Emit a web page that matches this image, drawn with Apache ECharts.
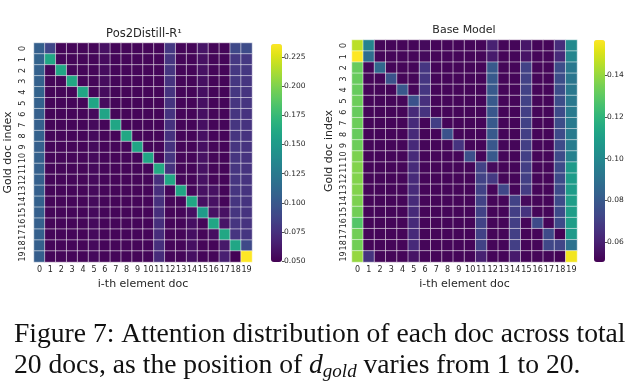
<!DOCTYPE html>
<html><head><meta charset="utf-8">
<script src="https://cdn.jsdelivr.net/npm/echarts@6/dist/echarts.min.js"></script>
<style>html,body{margin:0;padding:0;background:#fff}#c{width:640px;height:387px}</style>
</head><body><div id="c"></div>
<script>
// ---- data ----
const docLabels = ['0','1','2','3','4','5','6','7','8','9','10','11','12','13','14','15','16','17','18','19'];
const goldLabels = ['0','1','2','3','4','5','6','7','8','9','10','11','12','13','14','15','16','17','18','19'];

// Pos2Distill-R1: rows = gold doc index, cols = i-th element doc
const pos2distill = [
 [0.106,0.088,0.052,0.052,0.052,0.052,0.058,0.052,0.052,0.052,0.052,0.052,0.080,0.052,0.052,0.060,0.052,0.052,0.090,0.092],
 [0.108,0.160,0.052,0.052,0.052,0.052,0.055,0.052,0.052,0.052,0.052,0.052,0.078,0.052,0.052,0.058,0.052,0.052,0.080,0.080],
 [0.107,0.052,0.160,0.052,0.052,0.052,0.055,0.052,0.052,0.052,0.052,0.052,0.078,0.052,0.052,0.058,0.052,0.052,0.079,0.079],
 [0.107,0.052,0.052,0.161,0.052,0.052,0.055,0.052,0.052,0.052,0.052,0.052,0.077,0.052,0.052,0.057,0.052,0.052,0.079,0.078],
 [0.108,0.052,0.052,0.052,0.160,0.052,0.055,0.052,0.052,0.052,0.052,0.052,0.077,0.052,0.052,0.057,0.052,0.052,0.079,0.078],
 [0.107,0.052,0.052,0.052,0.052,0.159,0.055,0.052,0.052,0.052,0.052,0.052,0.077,0.052,0.052,0.057,0.052,0.052,0.078,0.078],
 [0.106,0.052,0.052,0.052,0.052,0.054,0.158,0.052,0.052,0.052,0.052,0.052,0.077,0.052,0.052,0.057,0.052,0.052,0.078,0.077],
 [0.106,0.052,0.052,0.052,0.052,0.054,0.052,0.160,0.052,0.052,0.052,0.052,0.076,0.052,0.052,0.057,0.052,0.052,0.078,0.077],
 [0.107,0.052,0.052,0.052,0.052,0.054,0.052,0.052,0.161,0.052,0.052,0.052,0.076,0.052,0.052,0.057,0.052,0.052,0.078,0.077],
 [0.106,0.052,0.052,0.052,0.052,0.054,0.052,0.052,0.052,0.159,0.052,0.052,0.076,0.052,0.052,0.057,0.052,0.052,0.078,0.077],
 [0.107,0.052,0.052,0.052,0.052,0.054,0.052,0.052,0.052,0.052,0.160,0.052,0.078,0.052,0.052,0.058,0.052,0.052,0.078,0.077],
 [0.106,0.052,0.052,0.052,0.052,0.054,0.052,0.052,0.052,0.052,0.052,0.162,0.076,0.052,0.052,0.058,0.052,0.052,0.078,0.077],
 [0.106,0.052,0.052,0.052,0.052,0.054,0.052,0.052,0.052,0.052,0.052,0.074,0.160,0.052,0.052,0.058,0.052,0.052,0.078,0.077],
 [0.106,0.052,0.052,0.052,0.052,0.054,0.052,0.052,0.052,0.052,0.052,0.074,0.052,0.159,0.052,0.058,0.058,0.052,0.078,0.077],
 [0.107,0.052,0.052,0.052,0.052,0.054,0.052,0.052,0.052,0.052,0.052,0.075,0.052,0.052,0.160,0.057,0.058,0.052,0.078,0.077],
 [0.106,0.052,0.052,0.052,0.052,0.054,0.052,0.052,0.052,0.052,0.052,0.074,0.052,0.052,0.057,0.150,0.058,0.058,0.078,0.077],
 [0.106,0.052,0.052,0.052,0.052,0.054,0.052,0.052,0.052,0.052,0.052,0.074,0.052,0.052,0.057,0.052,0.160,0.060,0.078,0.077],
 [0.106,0.052,0.052,0.052,0.052,0.054,0.052,0.052,0.052,0.052,0.052,0.073,0.052,0.052,0.057,0.052,0.056,0.161,0.078,0.078],
 [0.106,0.052,0.052,0.052,0.052,0.054,0.052,0.052,0.052,0.052,0.052,0.074,0.052,0.052,0.057,0.052,0.052,0.062,0.160,0.090],
 [0.105,0.052,0.052,0.052,0.052,0.054,0.052,0.052,0.052,0.052,0.052,0.072,0.052,0.052,0.057,0.052,0.052,0.066,0.050,0.236]
];

// Base Model
const baseModel = [
 [0.146,0.098,0.052,0.052,0.052,0.052,0.053,0.052,0.052,0.052,0.052,0.052,0.060,0.052,0.052,0.057,0.052,0.052,0.064,0.101],
 [0.157,0.088,0.052,0.052,0.052,0.052,0.053,0.052,0.052,0.052,0.052,0.052,0.058,0.052,0.052,0.056,0.052,0.052,0.063,0.099],
 [0.132,0.052,0.086,0.052,0.052,0.052,0.067,0.052,0.052,0.052,0.052,0.052,0.080,0.052,0.052,0.071,0.052,0.052,0.075,0.093],
 [0.132,0.052,0.052,0.077,0.052,0.052,0.067,0.052,0.052,0.052,0.052,0.052,0.080,0.052,0.052,0.071,0.052,0.052,0.075,0.092],
 [0.132,0.052,0.052,0.052,0.079,0.052,0.067,0.052,0.052,0.052,0.052,0.052,0.080,0.052,0.052,0.071,0.052,0.052,0.075,0.093],
 [0.133,0.052,0.052,0.052,0.052,0.077,0.065,0.052,0.052,0.052,0.052,0.052,0.080,0.052,0.052,0.071,0.052,0.052,0.075,0.093],
 [0.132,0.052,0.052,0.052,0.052,0.063,0.066,0.052,0.052,0.052,0.052,0.052,0.079,0.052,0.052,0.070,0.052,0.052,0.074,0.094],
 [0.133,0.052,0.052,0.052,0.052,0.063,0.052,0.070,0.052,0.052,0.052,0.052,0.080,0.052,0.052,0.071,0.052,0.052,0.075,0.094],
 [0.132,0.052,0.052,0.052,0.052,0.063,0.052,0.052,0.077,0.052,0.052,0.052,0.080,0.052,0.052,0.070,0.052,0.052,0.074,0.094],
 [0.133,0.052,0.052,0.052,0.052,0.063,0.052,0.052,0.052,0.066,0.052,0.052,0.079,0.052,0.052,0.070,0.052,0.052,0.074,0.095],
 [0.136,0.052,0.052,0.052,0.052,0.063,0.052,0.052,0.052,0.052,0.076,0.052,0.080,0.052,0.052,0.070,0.052,0.052,0.074,0.097],
 [0.137,0.052,0.052,0.052,0.052,0.063,0.052,0.052,0.052,0.052,0.052,0.071,0.053,0.052,0.052,0.070,0.052,0.052,0.074,0.108],
 [0.137,0.052,0.052,0.052,0.052,0.063,0.052,0.052,0.052,0.052,0.052,0.071,0.068,0.052,0.052,0.070,0.052,0.052,0.074,0.109],
 [0.137,0.052,0.052,0.052,0.052,0.063,0.052,0.052,0.052,0.052,0.052,0.071,0.052,0.073,0.052,0.069,0.052,0.052,0.074,0.109],
 [0.136,0.052,0.052,0.052,0.052,0.063,0.052,0.052,0.052,0.052,0.052,0.071,0.052,0.052,0.071,0.053,0.052,0.052,0.074,0.110],
 [0.134,0.052,0.052,0.052,0.052,0.063,0.052,0.052,0.052,0.052,0.052,0.071,0.052,0.052,0.070,0.066,0.052,0.052,0.074,0.110],
 [0.128,0.052,0.052,0.052,0.052,0.063,0.052,0.052,0.052,0.052,0.052,0.071,0.052,0.052,0.070,0.052,0.074,0.052,0.074,0.110],
 [0.134,0.052,0.052,0.052,0.052,0.063,0.052,0.052,0.052,0.052,0.052,0.071,0.052,0.052,0.070,0.052,0.052,0.074,0.051,0.108],
 [0.134,0.052,0.052,0.052,0.052,0.063,0.052,0.052,0.052,0.052,0.052,0.071,0.052,0.052,0.070,0.052,0.052,0.073,0.072,0.090],
 [0.140,0.066,0.052,0.052,0.052,0.056,0.052,0.052,0.052,0.052,0.052,0.060,0.052,0.052,0.058,0.052,0.052,0.052,0.051,0.155]
];

const leftRange = [0.0495, 0.236];
const rightRange = [0.0504, 0.157];
const leftTicks = [0.050, 0.075, 0.100, 0.125, 0.150, 0.175, 0.200, 0.225];
const rightTicks = [0.06, 0.08, 0.10, 0.12, 0.14];

const viridis = ['#440154','#471365','#482475','#463480','#414487','#3b528b','#355f8d','#2f6c8e','#2a788e','#25848e','#21918c','#1e9c89','#22a884','#2fb47c','#44bf70','#5ec962','#7ad151','#9bd93c','#bddf26','#dfe318','#fde725'];

// ---- build ----
function toCells(m) {
  const out = [];
  for (let r = 0; r < m.length; r++) for (let c = 0; c < m[r].length; c++) out.push([c, r, m[r][c]]);
  return out;
}
const chart = echarts.init(document.getElementById('c'), null, {renderer: 'canvas'});
const FONT = 'DejaVu Sans';
const TXT = '#262626';

function catX(gi, name) {
  return {
    type: 'category', gridIndex: gi, data: docLabels,
    axisLine: {show: false}, axisTick: {show: false}, splitLine: {show: false},
    axisLabel: {interval: 0, fontSize: 8, color: TXT, fontFamily: FONT, margin: 4},
    name: name, nameLocation: 'middle', nameGap: 17,
    nameTextStyle: {fontSize: 11, color: TXT, fontFamily: FONT}
  };
}
function catY(gi, name, gap, margin) {
  return {
    type: 'category', gridIndex: gi, data: goldLabels, inverse: true,
    axisLine: {show: false}, axisTick: {show: false}, splitLine: {show: false},
    axisLabel: {interval: 0, fontSize: 8, color: TXT, fontFamily: FONT, rotate: 90, margin: margin},
    name: name, nameLocation: 'middle', nameGap: gap,
    nameTextStyle: {fontSize: 11, color: TXT, fontFamily: FONT}
  };
}
function cbY(gi, range, ticks, digits) {
  return {
    type: 'value', gridIndex: gi, min: range[0], max: range[1], position: 'right',
    axisLine: {show: false}, splitLine: {show: false},
    axisTick: {show: true, length: 2.5, customValues: ticks, lineStyle: {color: TXT, width: 0.8}},
    axisLabel: {customValues: ticks, formatter: v => v.toFixed(digits), fontSize: 7.5, color: TXT, fontFamily: FONT, margin: 2}
  };
}

const option = {
  backgroundColor: '#ffffff',
  animation: false,
  grid: [
    {left: 34, top: 43, width: 218, height: 219},
    {left: 352, top: 40, width: 225, height: 222},
    {left: 271, top: 44, width: 11, height: 218},
    {left: 594, top: 40, width: 11, height: 222}
  ],
  xAxis: [
    catX(0, 'i-th element doc'),
    catX(1, 'i-th element doc'),
    {type: 'category', gridIndex: 2, data: [''], show: false},
    {type: 'category', gridIndex: 3, data: [''], show: false}
  ],
  yAxis: [
    catY(0, 'Gold doc index', 20, 7),
    catY(1, 'Gold doc index', 17, 4),
    cbY(2, leftRange, leftTicks, 3),
    cbY(3, rightRange, rightTicks, 2)
  ],
  visualMap: [
    {type: 'continuous', seriesIndex: 0, min: leftRange[0], max: leftRange[1], inRange: {color: viridis},
     orient: 'vertical', left: 271, top: 44, itemWidth: 11, itemHeight: 218, padding: 0,
     calculable: false, hoverLink: false, text: ['', ''], textGap: 0, showLabel: false},
    {type: 'continuous', seriesIndex: 1, min: rightRange[0], max: rightRange[1], inRange: {color: viridis},
     orient: 'vertical', left: 594, top: 40, itemWidth: 11, itemHeight: 222, padding: 0,
     calculable: false, hoverLink: false, text: ['', ''], textGap: 0, showLabel: false}
  ],
  series: [
    {type: 'heatmap', xAxisIndex: 0, yAxisIndex: 0, data: toCells(pos2distill),
     itemStyle: {borderColor: 'rgba(255,255,255,0.65)', borderWidth: 0.8}, emphasis: {disabled: true}},
    {type: 'heatmap', xAxisIndex: 1, yAxisIndex: 1, data: toCells(baseModel),
     itemStyle: {borderColor: 'rgba(255,255,255,0.65)', borderWidth: 0.8}, emphasis: {disabled: true}}
  ],
  graphic: [
    {type: 'text', x: 144, y: 34, style: {text: 'Pos2Distill-R¹', align: 'center', verticalAlign: 'middle', fontSize: 11.5, fontFamily: FONT, fill: TXT}},
    {type: 'text', x: 464, y: 30, style: {text: 'Base Model', align: 'center', verticalAlign: 'middle', fontSize: 11, fontFamily: FONT, fill: TXT}},
    {type: 'text', x: 14, y: 321, style: {text: 'Figure 7: Attention distribution of each doc across total', fontSize: 27.6, fontFamily: 'Liberation Serif', fill: '#111111'}},
    {type: 'text', x: 14, y: 350, style: {
      text: '20 docs, as the position of {i|d}{s|gold} varies from 1 to 20.',
      fontSize: 27.6, fontFamily: 'Liberation Serif', fill: '#111111',
      rich: {
        i: {fontSize: 27.6, fontStyle: 'italic', fontFamily: 'Liberation Serif', fill: '#111111', lineHeight: 32},
        s: {fontSize: 19, fontStyle: 'italic', fontFamily: 'Liberation Serif', fill: '#111111', lineHeight: 20, padding: [12, 0, 0, 0]}
      }
    }}
  ]
};
chart.setOption(option);
</script>
</body></html>
